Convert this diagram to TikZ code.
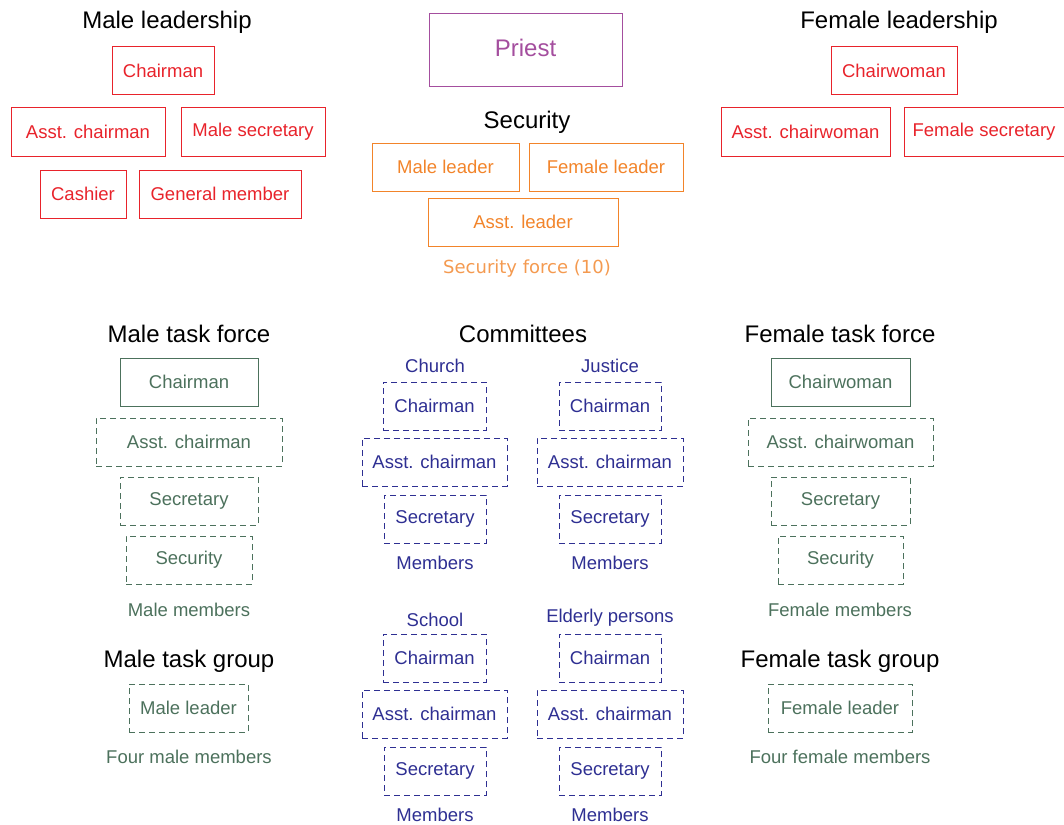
\documentclass[tikz,border=0pt]{standalone}
\usepackage{fontspec}
\setmainfont{Liberation Sans}
\newfontfamily\djv{DejaVu Sans}
\definecolor{cred}{HTML}{E8232B}
\definecolor{cpurple}{HTML}{A44E9E}
\definecolor{corange}{HTML}{F2842A}
\definecolor{corangel}{HTML}{F49A50}
\definecolor{cgreen}{HTML}{4C715C}
\definecolor{cblue}{HTML}{2E2F92}
\tikzset{
  box/.style={draw, line width=1pt, inner sep=0pt, minimum height=48pt, font=\fontsize{18.5}{20}\selectfont},
  redbox/.style={box, draw=cred, text=cred},
  orbox/.style={box, draw=corange, text=corange},
  gbox/.style={box, draw=cgreen, text=cgreen},
  gdbox/.style={gbox, dash pattern=on 6pt off 4pt},
  bdbox/.style={box, draw=cblue, text=cblue, dash pattern=on 6pt off 4pt},
  head/.style={font=\fontsize{24}{28}\selectfont, text=black, inner sep=0pt, yshift=-1.5pt},
  lab/.style={font=\fontsize{18.5}{20}\selectfont, inner sep=0pt},
}
\begin{document}
\begin{tikzpicture}[x=1pt,y=-1pt]
\useasboundingbox (0,0) rectangle (1064,824);
% Male leadership
\node[head] (mlh) at (167,21) {Male leadership};
\node[redbox, minimum width=102pt] (mlc) at (163,71) {Chairman};
\node[redbox, minimum width=154pt] (mla) at (88,132) {Asst. chairman};
\node[redbox, minimum width=144pt] (mls) at (253,132) {Male secretary};
\node[redbox, minimum width=86pt] (mlk) at (83,194) {Cashier};
\node[redbox, minimum width=162pt] (mlg) at (220,194) {General member};
% Priest and security
\node[box, draw=cpurple, text=cpurple, minimum width=193pt, minimum height=73pt, text depth=5pt, font=\fontsize{24}{28}\selectfont] (pr) at (525.5,50.5) {Priest};
\node[head] (sech) at (527,121) {Security};
\node[orbox, minimum width=147pt] (sml) at (445.5,167) {Male leader};
\node[orbox, minimum width=154pt] (sfl) at (606,167) {Female leader};
\node[orbox, minimum width=190pt] (sal) at (523,222) {Asst. leader};
\node[lab, text=corangel, font=\djv\fontsize{18}{20}\selectfont] (sf) at (527,269) {Security force (10)};
% Female leadership
\node[head] (flh) at (899,21) {Female leadership};
\node[redbox, minimum width=126pt] (flc) at (894,71) {Chairwoman};
\node[redbox, minimum width=169pt] (fla) at (805.5,132) {Asst. chairwoman};
\node[redbox, minimum width=160pt] (fls) at (984,132) {Female secretary};
% Male task force
\node[head] (mtf) at (189,332) {Male task force};
\node[gbox, minimum width=138pt] (mtc) at (189,382) {Chairman};
\node[gdbox, minimum width=186pt] (mta) at (189,442) {Asst. chairman};
\node[gdbox, minimum width=138pt] (mts) at (189,501) {Secretary};
\node[gdbox, minimum width=126pt] (mty) at (189,560) {Security};
\node[lab, text=cgreen] (mtm) at (189,610) {Male members};
\node[head] (mtg) at (189,660) {Male task group};
\node[gdbox, minimum width=119pt] (mgl) at (188.5,708) {Male leader};
\node[lab, text=cgreen] (mgm) at (189,757) {Four male members};
% Committees
\node[head] (com) at (523,332) {Committees};
\node[lab, text=cblue] (ch) at (435,366) {Church};
\node[bdbox, minimum width=103pt] (chc) at (434.5,406) {Chairman};
\node[bdbox, minimum width=145pt] (cha) at (434.5,462) {Asst. chairman};
\node[bdbox, minimum width=102pt] (chs) at (435,519) {Secretary};
\node[lab, text=cblue] (chm) at (435,563) {Members};
\node[lab, text=cblue] (ju) at (610,366) {Justice};
\node[bdbox, minimum width=102pt] (juc) at (610,406) {Chairman};
\node[bdbox, minimum width=146pt] (jua) at (610,462) {Asst. chairman};
\node[bdbox, minimum width=102pt] (jus) at (610,519) {Secretary};
\node[lab, text=cblue] (jum) at (610,563) {Members};
\node[lab, text=cblue] (sc) at (435,620) {School};
\node[bdbox, minimum width=103pt] (scc) at (434.5,658) {Chairman};
\node[bdbox, minimum width=145pt] (sca) at (434.5,714) {Asst. chairman};
\node[bdbox, minimum width=102pt] (scs) at (435,771) {Secretary};
\node[lab, text=cblue] (scm) at (435,815) {Members};
\node[lab, text=cblue] (el) at (610,618) {Elderly persons};
\node[bdbox, minimum width=102pt] (elc) at (610,658) {Chairman};
\node[bdbox, minimum width=146pt] (ela) at (610,714) {Asst. chairman};
\node[bdbox, minimum width=102pt] (els) at (610,771) {Secretary};
\node[lab, text=cblue] (elm) at (610,815) {Members};
% Female task force
\node[head] (ftf) at (840,332) {Female task force};
\node[gbox, minimum width=139pt] (ftc) at (840.5,382) {Chairwoman};
\node[gdbox, minimum width=185pt] (fta) at (840.5,442) {Asst. chairwoman};
\node[gdbox, minimum width=139pt] (fts) at (840.5,501) {Secretary};
\node[gdbox, minimum width=125pt] (fty) at (840.5,560) {Security};
\node[lab, text=cgreen] (ftm) at (840,610) {Female members};
\node[head] (ftg) at (840,660) {Female task group};
\node[gdbox, minimum width=144pt] (fgl) at (840,708) {Female leader};
\node[lab, text=cgreen] (fgm) at (840,757) {Four female members};
\end{tikzpicture}
\end{document}
